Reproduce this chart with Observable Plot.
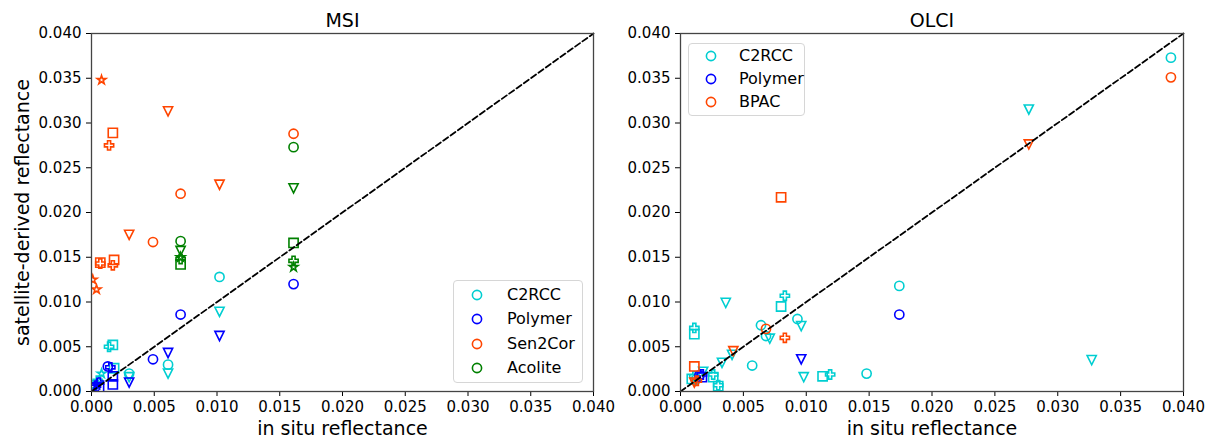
<!DOCTYPE html>
<html><head><meta charset="utf-8">
<script src="https://cdn.jsdelivr.net/npm/d3@7"></script>
<script src="https://cdn.jsdelivr.net/npm/@observablehq/plot@0.6"></script>
<style>
body{margin:0;background:#fff;font-family:"DejaVu Sans",sans-serif;}
#wrap{position:relative;width:1212px;height:441px;overflow:hidden;}
.panel{position:absolute;top:0;}
.legend{position:absolute;box-sizing:border-box;border:1px solid #d6d6d6;border-radius:4px;background:rgba(255,255,255,0.85);font-size:16px;color:#000;}
.legend .row{position:absolute;left:0;height:20px;line-height:20px;white-space:nowrap;}
.legend svg{position:absolute;top:0;}
.legend span{position:absolute;top:0;}
</style></head><body><div id="wrap"></div>
<script>
// ---- data ----
const axisTicks = [0, 0.005, 0.01, 0.015, 0.02, 0.025, 0.03, 0.035, 0.04];
const oneToOne = [0, 0.04];
const msiAlgorithms = ["C2RCC", "Polymer", "Sen2Cor", "Acolite"];
const olciAlgorithms = ["C2RCC", "Polymer", "BPAC"];
const algColors = {C2RCC: "#00ced1", Polymer: "#0000ff", Sen2Cor: "#ff4500", BPAC: "#ff4500", Acolite: "#008000"};

// [in situ, satellite, marker]
const msiC2RCC = [
  [0.0102, 0.0128, "o"], [0.0102, 0.0089, "v"], [0.0017, 0.0052, "s"], [0.0014, 0.0050, "P"],
  [0.0061, 0.0030, "o"], [0.0061, 0.0020, "v"], [0.0030, 0.0020, "o"], [0.0030, 0.0016, "v"],
  [0.0008, 0.0020, "*"], [0.0018, 0.0026, "s"], [0.0005, 0.0012, "P"], [0.0003, 0.0008, "o"]
];
const msiPolymer = [
  [0.0161, 0.0120, "o"], [0.0071, 0.0086, "o"], [0.0102, 0.0062, "v"], [0.0061, 0.0043, "v"],
  [0.0049, 0.0036, "o"], [0.0015, 0.0027, "P"], [0.0013, 0.0028, "o"], [0.0017, 0.0017, "s"],
  [0.0017, 0.0008, "s"], [0.0030, 0.0010, "v"], [0.0004, 0.0008, "*"], [0.0006, 0.0010, "P"],
  [0.0003, 0.0005, "o"], [0.0006, 0.0003, "s"], [0.0002, 0.0002, "v"]
];
const msiSen2Cor = [
  [0.0008, 0.0348, "*"], [0.0061, 0.0313, "v"], [0.0017, 0.0289, "s"], [0.0014, 0.0275, "P"],
  [0.0071, 0.0221, "o"], [0.0102, 0.0231, "v"], [0.0161, 0.0288, "o"], [0.0030, 0.0175, "v"],
  [0.0049, 0.0167, "o"], [0.0007, 0.0144, "s"], [0.0007, 0.0143, "P"], [0.0018, 0.0147, "s"],
  [0.0017, 0.0141, "P"], [0.0001, 0.0125, "*"], [0.0004, 0.0114, "*"]
];
const msiAcolite = [
  [0.0161, 0.0273, "o"], [0.0161, 0.0227, "v"], [0.0161, 0.0166, "s"], [0.0161, 0.0146, "P"],
  [0.0161, 0.0139, "*"], [0.0071, 0.0168, "o"], [0.0071, 0.0157, "v"], [0.0071, 0.0150, "*"],
  [0.0071, 0.0148, "P"], [0.0071, 0.0142, "s"]
];
const olciC2RCC = [
  [0.0390, 0.0373, "o"], [0.0277, 0.0315, "v"], [0.0174, 0.0118, "o"], [0.0327, 0.0035, "v"],
  [0.0148, 0.0020, "o"], [0.0036, 0.0099, "v"], [0.0083, 0.0107, "P"], [0.0080, 0.0095, "s"],
  [0.0011, 0.0071, "P"], [0.0011, 0.0064, "s"], [0.0064, 0.0074, "o"], [0.0068, 0.0062, "o"],
  [0.0071, 0.0059, "v"], [0.0093, 0.0081, "o"], [0.0096, 0.0073, "v"], [0.0041, 0.0041, "v"],
  [0.0033, 0.0032, "v"], [0.0057, 0.0029, "o"], [0.0098, 0.0016, "v"], [0.0113, 0.0017, "s"],
  [0.0119, 0.0019, "P"], [0.0026, 0.0016, "s"], [0.0026, 0.0019, "P"], [0.0030, 0.0006, "s"],
  [0.0030, 0.0007, "P"], [0.0009, 0.0014, "s"], [0.0011, 0.0017, "P"], [0.0012, 0.0013, "o"],
  [0.0018, 0.0022, "v"]
];
const olciPolymer = [
  [0.0174, 0.0086, "o"], [0.0096, 0.0036, "v"], [0.0017, 0.0016, "s"], [0.0017, 0.0019, "P"],
  [0.0015, 0.0018, "o"]
];
const olciBPAC = [
  [0.0390, 0.0351, "o"], [0.0277, 0.0276, "v"], [0.0080, 0.0217, "s"], [0.0068, 0.0070, "o"],
  [0.0083, 0.0060, "P"], [0.0042, 0.0045, "v"], [0.0011, 0.0028, "s"], [0.0011, 0.0010, "v"],
  [0.0013, 0.0012, "P"]
];

// ---- marker shapes (matplotlib-like) ----
const rad = size => Math.sqrt(size / Math.PI);
const symTriDown = {draw(c, size) { const r = rad(size); c.moveTo(-r, -r); c.lineTo(r, -r); c.lineTo(0, r); c.closePath(); }};
const symSquare = {draw(c, size) { const r = rad(size); c.moveTo(-r, -r); c.lineTo(r, -r); c.lineTo(r, r); c.lineTo(-r, r); c.closePath(); }};
const symPlus = {draw(c, size) {
  const k = rad(size) / 3;
  const pts = [[-1,-3],[-1,-1],[-3,-1],[-3,1],[-1,1],[-1,3],[1,3],[1,1],[3,1],[3,-1],[1,-1],[1,-3]];
  pts.forEach(([x, y], i) => i ? c.lineTo(x * k, y * k) : c.moveTo(x * k, y * k)); c.closePath();
}};
const symStar = {draw(c, size) {
  const r = rad(size), ri = r * 0.381966;
  for (let i = 0; i < 10; i++) {
    const a = -Math.PI / 2 + i * Math.PI / 5, rr = i % 2 ? ri : r;
    const x = rr * Math.cos(a), y = rr * Math.sin(a);
    i ? c.lineTo(x, y) : c.moveTo(x, y);
  }
  c.closePath();
}};
const shapeSymbols = [["o", d3.symbolCircle], ["v", symTriDown], ["s", symSquare], ["P", symPlus], ["*", symStar]];

function panel(algos, sets, title, yLabel, mLeft, mRight) {
  const marks = [];
  algos.forEach((name, i) => {
    for (const [code, sym] of shapeSymbols) {
      const pts = sets[i].filter(d => d[2] === code);
      if (!pts.length) continue;
      marks.push(Plot.dot(pts, {x: d => d[0], y: d => d[1], symbol: sym, r: 4.6,
        stroke: algColors[name], strokeWidth: 1.6, fill: "none", clip: true}));
    }
  });
  marks.push(Plot.line(oneToOne, {x: d => d, y: d => d, stroke: "#000", strokeWidth: 1.8, strokeDasharray: "6,3"}));
  marks.push(Plot.frame({stroke: "#444", strokeWidth: 1.3}));
  marks.push(Plot.text([title], {text: d => d, frameAnchor: "top", textAnchor: "middle", lineAnchor: "middle", dy: -13, fontSize: 19, fill: "#000"}));
  marks.push(Plot.text(["in situ reflectance"], {text: d => d, frameAnchor: "bottom", textAnchor: "middle", lineAnchor: "middle", dy: 37, fontSize: 19, fill: "#000"}));
  if (yLabel) marks.push(Plot.text([yLabel], {text: d => d, frameAnchor: "left", textAnchor: "middle", lineAnchor: "middle", dx: -69, rotate: -90, fontSize: 19, fill: "#000"}));
  return Plot.plot({
    width: 606, height: 441,
    marginLeft: mLeft, marginRight: mRight, marginTop: 33, marginBottom: 50,
    style: {fontSize: "15px", fontFamily: "DejaVu Sans", color: "#000", background: "transparent", overflow: "visible"},
    x: {domain: [0, 0.04], ticks: axisTicks, tickFormat: d3.format(".3f"), tickSize: 5, tickPadding: 5, label: null},
    y: {domain: [0, 0.04], ticks: axisTicks, tickFormat: d3.format(".3f"), tickSize: 5, tickPadding: 5, label: null},
    marks
  });
}

function legend(algos, box, rowStart, rowStep, markerX, textX) {
  const div = document.createElement("div");
  div.className = "legend";
  Object.assign(div.style, {left: box[0] + "px", top: box[1] + "px", width: box[2] + "px", height: box[3] + "px"});
  algos.forEach((name, i) => {
    const row = document.createElement("div");
    row.className = "row";
    row.style.top = (rowStart + i * rowStep - 10) + "px";
    row.style.width = "100%";
    row.innerHTML = `<svg width="14" height="20" style="left:${markerX - 7}px"><circle cx="7" cy="10" r="4.6" fill="none" stroke="${algColors[name]}" stroke-width="1.6"/></svg><span style="left:${textX}px">${name}</span>`;
    div.appendChild(row);
  });
  return div;
}

const wrap = document.getElementById("wrap");
const left = panel(msiAlgorithms, [msiC2RCC, msiPolymer, msiSen2Cor, msiAcolite], "MSI", "satellite-derived reflectance", 91, 13);
left.classList.add("panel"); left.style.left = "0px";
const right = panel(olciAlgorithms, [olciC2RCC, olciPolymer, olciBPAC], "OLCI", null, 74, 29);
right.classList.add("panel"); right.style.left = "606px";
wrap.appendChild(left); wrap.appendChild(right);
wrap.appendChild(legend(msiAlgorithms, [453, 280, 130, 103], 14, 24.4, 23, 53));
wrap.appendChild(legend(olciAlgorithms, [688, 43, 117, 73], 12, 23, 22, 50));
</script></body></html>
